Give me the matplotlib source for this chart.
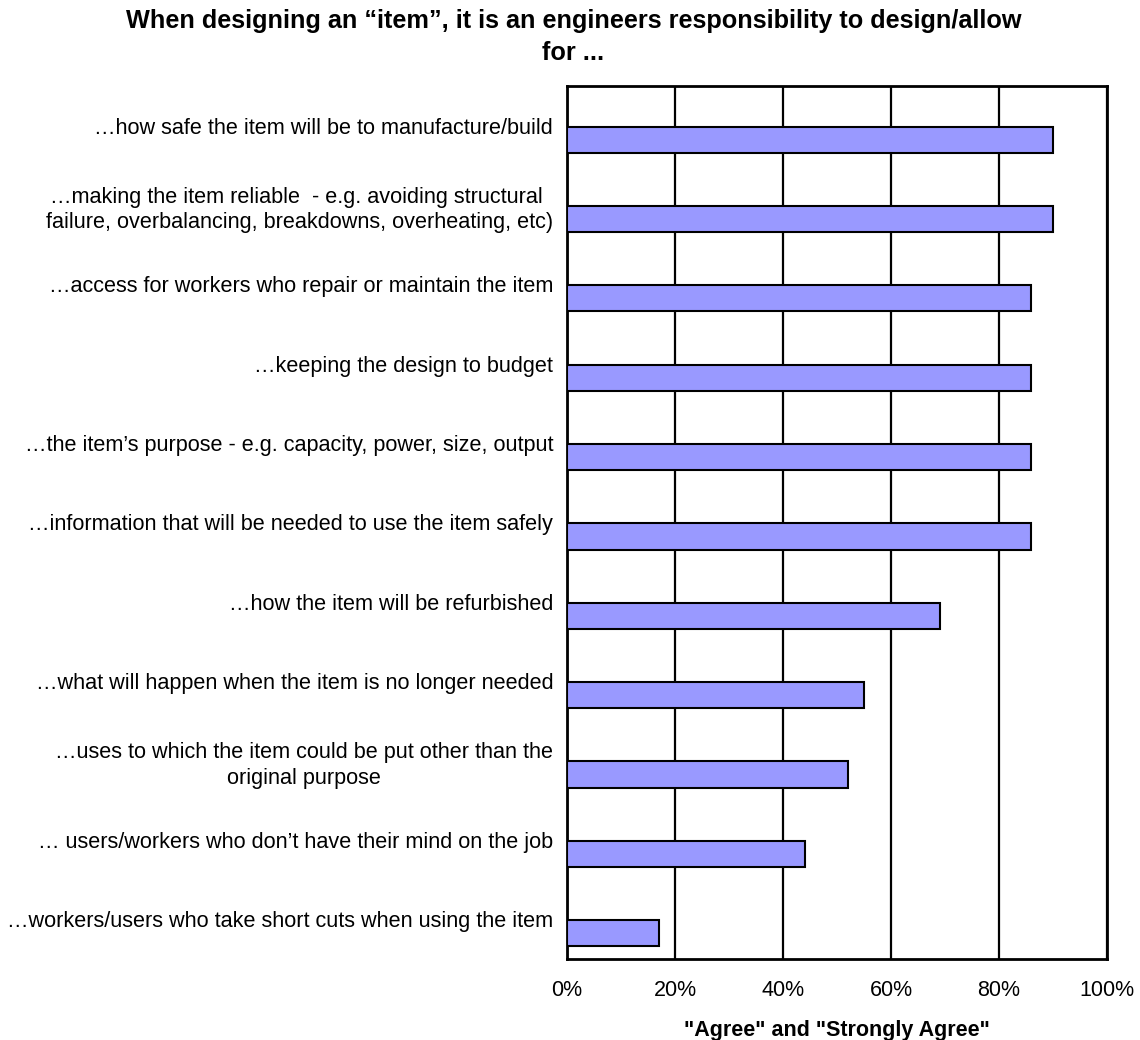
import matplotlib
matplotlib.use("Agg")
import matplotlib.pyplot as plt

plt.rcParams['font.family'] = ['Liberation Sans', 'DejaVu Sans']

categories = [
    "\u2026how safe the item will be to manufacture/build",
    "\u2026making the item reliable  - e.g. avoiding structural \nfailure, overbalancing, breakdowns, overheating, etc)",
    "\u2026access for workers who repair or maintain the item",
    "\u2026keeping the design to budget",
    "\u2026the item\u2019s purpose - e.g. capacity, power, size, output",
    "\u2026information that will be needed to use the item safely",
    "\u2026how the item will be refurbished",
    "\u2026what will happen when the item is no longer needed",
    "\u2026uses to which the item could be put other than the\noriginal purpose",
    "\u2026 users/workers who don\u2019t have their mind on the job",
    "\u2026workers/users who take short cuts when using the item",
]
values = [90, 90, 86, 86, 86, 86, 69, 55, 52, 44, 17]
xticks = [0, 20, 40, 60, 80, 100]
xticklabels = ["0%", "20%", "40%", "60%", "80%", "100%"]

title = "When designing an \u201citem\u201d, it is an engineers responsibility to design/allow\nfor ..."
xlabel = "\"Agree\" and \"Strongly Agree\""

fig = plt.figure(figsize=(11.4, 10.4), dpi=100)
ax = fig.add_axes([0.4974, 0.0779, 0.4737, 0.8394])

pos = list(range(len(categories)))
ax.barh([p + 0.176 for p in pos], values, height=0.33, color="#9999FF",
        edgecolor="black", linewidth=1.5, zorder=3)

ax.set_xlim(0, 100)
ax.set_ylim(len(categories) - 0.5, -0.5)
ax.set_xticks(xticks)
ax.set_xticklabels(xticklabels, fontsize=15.5)
ax.set_yticks(pos)
ax.set_yticklabels(categories, fontsize=15.6, multialignment="center",
                   linespacing=1.3)
ax.tick_params(axis="both", length=0)
ax.tick_params(axis="y", pad=10)
ax.tick_params(axis="x", pad=15)

ax.set_axisbelow(True)
ax.xaxis.grid(True, color="black", linewidth=1.6)
ax.yaxis.grid(False)
for s in ax.spines.values():
    s.set_color("black")
    s.set_linewidth(2.0)

ax.set_xlabel(xlabel, fontsize=15.5, fontweight="bold", labelpad=14)

fig.text(0.503, 1 - 37 / 1040, title, ha="center", va="center",
         fontsize=18.2, fontweight="bold", linespacing=1.45)

fig.savefig("out.png", dpi=100, facecolor="white")
